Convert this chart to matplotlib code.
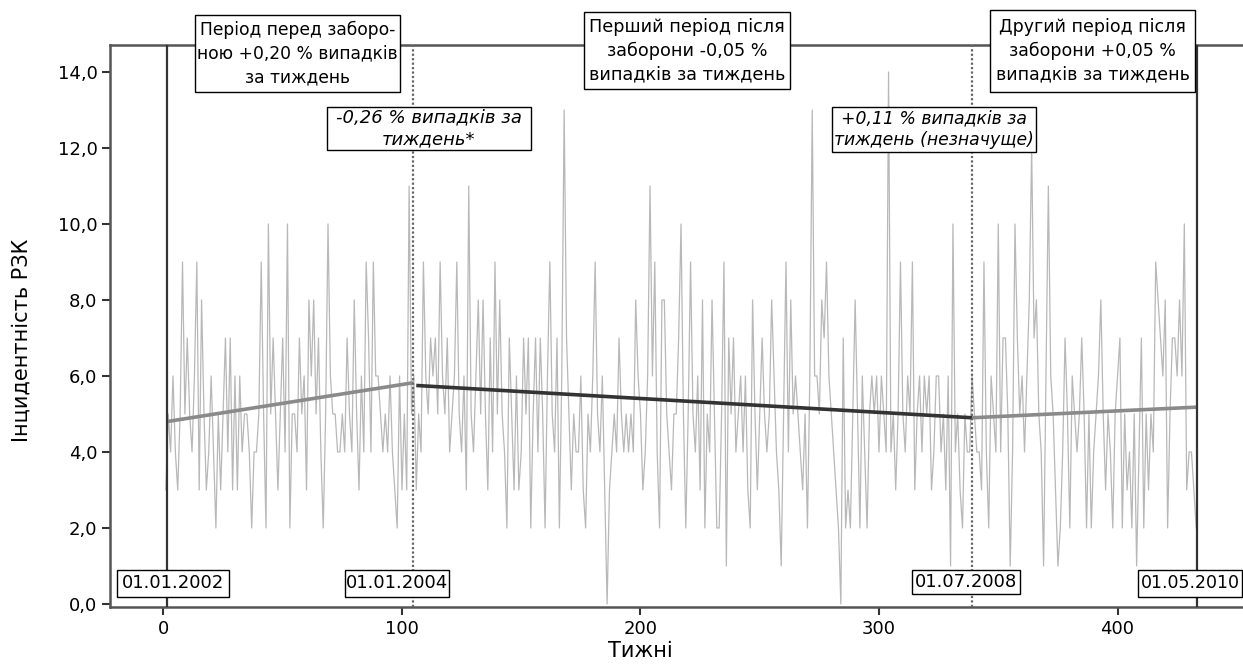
import numpy as np
import matplotlib.pyplot as plt
from matplotlib.patches import Rectangle

# weekly incidence (week 1 .. end)
cases = [
    3, 5, 4, 6, 4, 3, 5, 9, 5, 7,
    5, 4, 6, 9, 3, 8, 5, 3, 4, 6,
    4, 2, 5, 3, 5, 7, 4, 7, 3, 6,
    3, 6, 4, 5, 5, 4, 2, 4, 4, 5,
    9, 5, 2, 10, 5, 7, 5, 3, 5, 7,
    4, 10, 2, 5, 5, 4, 7, 5, 6, 3,
    8, 6, 8, 5, 7, 4, 2, 5, 10, 6,
    5, 5, 4, 4, 5, 4, 7, 5, 4, 8,
    5, 3, 6, 4, 9, 7, 4, 9, 6, 6,
    5, 4, 5, 4, 6, 4, 3, 2, 6, 3,
    5, 3, 11, 5, 6, 3, 5, 4, 9, 6,
    5, 7, 6, 7, 5, 9, 6, 5, 7, 4,
    5, 6, 9, 5, 4, 6, 3, 11, 5, 4,
    6, 8, 5, 8, 5, 3, 7, 4, 9, 5,
    8, 5, 4, 2, 7, 5, 3, 6, 3, 4,
    7, 5, 7, 2, 5, 7, 4, 7, 5, 2,
    6, 9, 5, 4, 7, 2, 6, 13, 7, 5,
    3, 5, 4, 4, 6, 3, 2, 5, 4, 6,
    9, 5, 4, 6, 3, 0, 3, 4, 5, 4,
    7, 5, 4, 5, 4, 5, 4, 8, 6, 5,
    3, 4, 6, 11, 6, 9, 4, 2, 8, 8,
    5, 4, 3, 5, 5, 7, 10, 5, 2, 5,
    9, 5, 4, 6, 3, 8, 2, 5, 4, 8,
    5, 2, 2, 5, 9, 1, 7, 5, 7, 4,
    5, 6, 4, 6, 3, 2, 8, 5, 3, 5,
    7, 5, 4, 5, 8, 6, 4, 3, 1, 5,
    9, 4, 8, 5, 6, 5, 4, 3, 5, 2,
    6, 13, 6, 6, 5, 8, 7, 9, 6, 5,
    4, 3, 2, 0, 7, 2, 3, 2, 5, 8,
    5, 2, 6, 4, 2, 5, 6, 5, 6, 4,
    6, 5, 4, 14, 4, 5, 3, 5, 9, 5,
    4, 6, 5, 9, 3, 5, 6, 4, 6, 5,
    6, 3, 4, 6, 6, 4, 5, 3, 6, 1,
    10, 4, 5, 3, 2, 5, 4, 4, 6, 5,
    4, 4, 3, 9, 4, 2, 6, 5, 4, 10,
    4, 7, 7, 5, 1, 4, 10, 7, 5, 6,
    4, 6, 8, 12, 7, 8, 5, 4, 1, 6,
    11, 6, 5, 3, 1, 2, 4, 7, 5, 2,
    6, 5, 4, 5, 7, 5, 2, 5, 2, 4,
    5, 6, 8, 5, 3, 5, 4, 2,
    5, 6, 7, 2, 5, 3, 4, 2, 5, 1,
    4, 7, 2, 5, 3, 5, 4, 9, 8, 7,
    6, 8, 2, 5, 7, 7, 6, 8, 6, 10,
    3, 4, 4, 3, 2,
]
weeks = np.arange(1, len(cases) + 1)

# segmented regression lines (start/end week, start/end value)
trend_x = [[1.5, 104.6], [106, 339], [339, 433.3]]
trend_y = [[4.8, 5.82], [5.75, 4.9], [4.9, 5.18]]
trend_c = ['#8a8a8a', '#333333', '#8a8a8a']

cut_solid = [1.5, 433.3]
cut_dotted = [104.6, 339]

W, H = 1243, 664
fig = plt.figure(figsize=(W / 100, H / 100), dpi=100)
ax = fig.add_axes([110 / W, 1 - 607 / H, (W - 110) / W, (607 - 45) / H])

ax.plot(weeks, cases, color='#b8b8b8', lw=0.9, zorder=2)
for xs, ys, c in zip(trend_x, trend_y, trend_c):
    ax.plot(xs, ys, color=c, lw=2.6, zorder=3, solid_capstyle='butt')

for x in cut_solid:
    ax.axvline(x, color='#333333', lw=1.6, zorder=4)
for x in cut_dotted:
    ax.axvline(x, color='#666666', lw=1.6, ls=(0, (1, 1)), zorder=4)

ax.set_xlim(-22.4, 452.6)
ax.set_ylim(-0.08, 14.71)
ax.set_xticks([0, 100, 200, 300, 400])
yt = np.arange(0, 15, 2)
ax.set_yticks(yt)
ax.set_yticklabels([f'{v:.1f}'.replace('.', ',') for v in yt])
ax.tick_params(direction='out', length=6, width=1.5, color='#333333',
               labelsize=13, pad=3)

for s in ['left', 'top', 'bottom']:
    ax.spines[s].set_color('#555555')
    ax.spines[s].set_linewidth(1.8)
ax.spines['right'].set_visible(False)

fig.text(22 / W, 1 - 340 / H, 'Інцидентність РЗК', rotation=90,
         ha='center', va='center', fontsize=15)
fig.text(640 / W, 1 - 651 / H, 'Тижні', ha='center', va='center', fontsize=15)


def box(x0, y0, x1, y1, text, size=13, style='normal', ls=1.4):
    fig.add_artist(Rectangle((x0 / W, 1 - y1 / H), (x1 - x0) / W, (y1 - y0) / H,
                             transform=fig.transFigure, fc='white', ec='black',
                             lw=1.0, zorder=5))
    fig.text((x0 + x1) / 2 / W, 1 - (y0 + y1) / 2 / H, text, ha='center',
             va='center', fontsize=size, style=style, linespacing=ls, zorder=6)


box(195, 15, 400, 92, 'Період перед заборо-\nною +0,20 % випадків\nза тиждень', size=12.3)
box(584, 12, 790, 89, 'Перший період після\nзаборони -0,05 %\nвипадків за тиждень', size=12.7)
box(990, 10, 1195, 92, 'Другий період після\nзаборони +0,05 %\nвипадків за тиждень', size=12.5)
box(327, 107, 531, 150, '-0,26 % випадків за\nтиждень*', style='italic', ls=1.25)
box(832, 107, 1036, 152, '+0,11 % випадків за\nтиждень (незначуще)', size=12.4,
    style='italic', ls=1.25)

box(117, 570, 229, 597, '01.01.2002', size=13)
box(345, 570, 449, 597, '01.01.2004', size=13)
box(912, 570, 1020, 594, '01.07.2008', size=13)
box(1138, 570, 1242, 597, '01.05.2010', size=12.5)

fig.savefig('out.png', dpi=100)
